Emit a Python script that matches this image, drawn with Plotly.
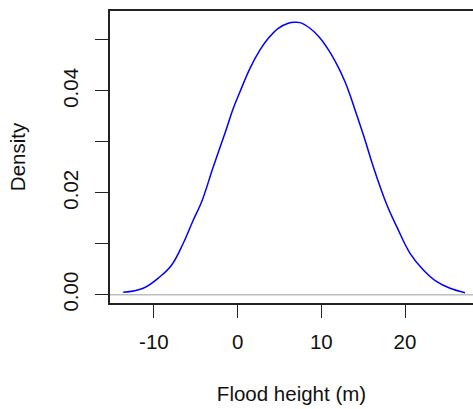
import plotly.graph_objects as go

# Density curve
flood_height = [-13.66, -11.27, -9.27, -7.87, -6.49, -5.29, -4.29, -2.90, -1.51, -0.51,
                0.29, 1.48, 2.68, 3.67, 4.86, 6.06, 6.74, 7.46, 8.65, 9.84,
                10.84, 11.84, 12.83, 13.43, 14.03, 15.22, 16.21, 17.79, 19.01, 20.60,
                22.19, 23.79, 25.38, 27.17]
density = [0.00047, 0.00126, 0.00353, 0.00583, 0.01009, 0.01466, 0.01826, 0.02513, 0.03168, 0.03660,
           0.03985, 0.04444, 0.04804, 0.05033, 0.05230, 0.05328, 0.05347, 0.05341, 0.05230, 0.05040,
           0.04810, 0.04525, 0.04181, 0.03920, 0.03626, 0.03037, 0.02513, 0.01781, 0.01335, 0.00813,
           0.00485, 0.00255, 0.00126, 0.00039]

x_ticks = [-10, 0, 10, 20]
y_ticks = [0.00, 0.01, 0.02, 0.03, 0.04, 0.05]
y_ticktext = ["0.00", "", "0.02", "", "0.04", ""]

FONT = "Liberation Sans, Arial, sans-serif"

fig = go.Figure()
fig.add_hline(y=0, line=dict(color="#BEBEBE", width=1.5), layer="below")
fig.add_trace(go.Scatter(x=flood_height, y=density, mode="lines",
                         line=dict(color="#0000FF", width=1.5, shape="spline", smoothing=1.1),
                         showlegend=False, hoverinfo="skip"))

fig.update_layout(
    width=473, height=409,
    margin=dict(l=110, r=0, t=11, b=106),
    paper_bgcolor="white", plot_bgcolor="white",
    font=dict(family=FONT, size=20.5, color="#111111"),
    xaxis=dict(range=[-15.24, 28.12], tickvals=x_ticks, ticktext=[str(v) for v in x_ticks],
               showgrid=False, zeroline=False, showline=True, mirror=True,
               linecolor="#222222", linewidth=1.5,
               ticks="outside", ticklen=13, tickwidth=1.3, tickcolor="#222222",
               ticklabelstandoff=7,
               title=dict(text="Flood height (m)", standoff=34, font=dict(size=20.5))),
    yaxis=dict(range=[-0.00163, 0.05569], tickvals=y_ticks, ticktext=y_ticktext,
               showgrid=False, zeroline=False, showline=True, mirror=False,
               linecolor="#222222", linewidth=1.5,
               ticks="outside", ticklen=13, tickwidth=1.3, tickcolor="#222222",
               tickangle=-90, ticklabelstandoff=9,
               title=dict(text="Density", standoff=28, font=dict(size=20.5))),
)

fig.write_html("out.html")
